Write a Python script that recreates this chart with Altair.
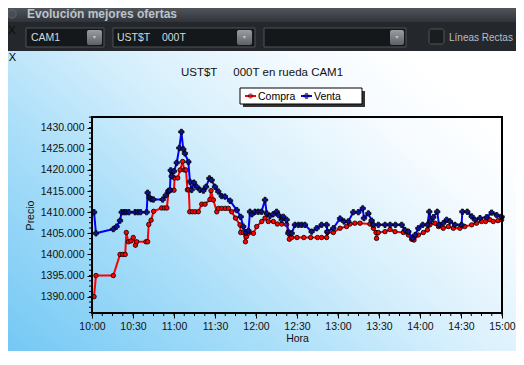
import altair as alt
import pandas as pd

# ---------------- data ----------------
compra_time = [
    "10:01:30", "10:02:54", "10:15:36", "10:20:30", "10:22:30", "10:24:18", "10:25:06",
    "10:26:36", "10:28:30", "10:30:12", "10:31:48", "10:32:42", "10:39:30", "10:40:42",
    "10:41:30", "10:43:12", "10:45:06", "10:51:00", "10:53:00", "10:54:48", "10:56:00",
    "10:57:30", "11:00:00", "11:00:24", "11:02:42", "11:04:30", "11:06:18", "11:07:30",
    "11:08:48", "11:09:48", "11:10:48", "11:11:30", "11:13:30", "11:15:30", "11:17:48",
    "11:20:18", "11:22:42", "11:26:18", "11:27:06", "11:28:48", "11:31:18", "11:32:30",
    "11:35:00", "11:37:30", "11:39:48", "11:42:12", "11:45:00", "11:48:18", "11:48:48",
    "11:50:48", "11:52:18", "11:53:00", "11:54:24", "11:58:06", "12:00:30", "12:04:12",
    "12:06:36", "12:09:00", "12:12:42", "12:15:36", "12:18:48", "12:22:24", "12:23:42",
    "12:24:24", "12:26:06", "12:30:00", "12:35:00", "12:40:00", "12:45:00", "12:48:00",
    "12:51:42", "12:52:12", "12:56:36", "13:01:30", "13:06:18", "13:08:48", "13:12:24",
    "13:16:06", "13:23:24", "13:25:54", "13:27:48", "13:28:12", "13:29:30", "13:34:24",
    "13:38:06", "13:41:42", "13:47:48", "13:51:30", "13:53:54", "13:55:36", "13:58:48",
    "14:02:30", "14:05:24", "14:07:18", "14:11:00", "14:13:30", "14:17:00", "14:20:42",
    "14:24:24", "14:29:12", "14:32:48", "14:37:48", "14:41:24", "14:45:06", "14:48:00",
    "14:51:12", "14:53:36", "14:57:00", "14:59:42",
]
compra_price = [
    1390.0, 1395.0, 1395.0, 1400.0, 1400.0, 1400.0, 1405.2,
    1403.0, 1403.2, 1404.0, 1402.2, 1403.0, 1403.0, 1403.0,
    1407.1, 1408.1, 1410.2, 1411.0, 1411.0, 1411.0, 1415.0,
    1415.2, 1415.2, 1418.1, 1418.1, 1420.0, 1422.0, 1420.0,
    1420.0, 1415.3, 1415.3, 1410.1, 1410.1, 1410.1, 1410.1,
    1411.9, 1411.9, 1413.0, 1415.1, 1412.9, 1410.1, 1410.9,
    1410.9, 1410.9, 1410.9, 1410.1, 1408.6, 1407.0, 1405.2,
    1405.2, 1403.0, 1404.2, 1405.0, 1405.0, 1406.6, 1407.8,
    1408.6, 1407.8, 1407.8, 1407.2, 1407.2, 1407.1, 1405.4,
    1403.6, 1404.0, 1404.0, 1404.0, 1404.0, 1404.0, 1404.0,
    1404.0, 1405.2, 1405.2, 1406.2, 1406.6, 1407.2, 1407.4,
    1407.4, 1407.2, 1406.2, 1405.2, 1403.8, 1405.2, 1405.4,
    1405.9, 1405.4, 1405.2, 1404.6, 1403.6, 1403.4, 1404.6,
    1405.2, 1405.8, 1407.0, 1407.4, 1406.6, 1406.2, 1406.6,
    1406.2, 1406.2, 1406.6, 1407.0, 1407.4, 1407.8, 1407.8,
    1408.2, 1407.8, 1408.0, 1408.2,
]
venta_time = [
    "10:01:30", "10:02:54", "10:15:36", "10:18:00", "10:20:30", "10:21:42", "10:23:30",
    "10:25:00", "10:27:00", "10:31:30", "10:33:30", "10:35:30", "10:40:00", "10:40:42",
    "10:42:00", "10:43:12", "10:44:54", "10:51:42", "10:54:00", "10:55:54", "10:57:00",
    "10:57:36", "10:58:18", "11:00:00", "11:02:00", "11:03:54", "11:05:24", "11:06:48",
    "11:08:00", "11:10:30", "11:11:42", "11:12:54", "11:14:36", "11:16:36", "11:19:00",
    "11:21:30", "11:23:24", "11:25:54", "11:27:30", "11:30:00", "11:32:24", "11:34:54",
    "11:37:18", "11:41:00", "11:45:54", "11:48:48", "11:50:42", "11:52:42", "11:54:30",
    "11:55:36", "11:57:00", "11:59:18", "12:01:36", "12:04:00", "12:06:36", "12:07:48",
    "12:10:12", "12:12:30", "12:15:06", "12:16:30", "12:18:48", "12:20:00", "12:22:24",
    "12:23:42", "12:26:06", "12:28:30", "12:31:00", "12:33:24", "12:35:48", "12:40:42",
    "12:44:24", "12:48:00", "12:51:42", "12:52:12", "12:56:36", "13:01:30", "13:04:24",
    "13:07:30", "13:11:12", "13:14:54", "13:18:06", "13:19:00", "13:22:12", "13:24:36",
    "13:25:54", "13:29:30", "13:34:24", "13:38:06", "13:42:00", "13:46:36", "13:49:00",
    "13:51:30", "13:54:42", "13:56:24", "13:58:48", "14:02:00", "14:05:24", "14:06:48",
    "14:08:00", "14:09:42", "14:12:36", "14:13:54", "14:17:00", "14:19:30", "14:21:54",
    "14:25:36", "14:30:24", "14:31:00", "14:34:36", "14:37:48", "14:40:12", "14:43:54",
    "14:48:48", "14:52:24", "14:56:06", "14:59:42",
]
venta_price = [
    1410.0, 1405.0, 1406.0, 1406.6, 1408.0, 1410.0, 1410.0,
    1410.0, 1410.0, 1410.0, 1410.0, 1410.0, 1410.0, 1414.6,
    1413.5, 1413.1, 1413.0, 1413.0, 1414.0, 1415.0, 1415.2,
    1419.9, 1418.5, 1419.7, 1421.7, 1425.2, 1429.0, 1424.9,
    1423.9, 1421.9, 1417.2, 1415.3, 1417.0, 1416.0, 1415.3,
    1415.1, 1416.0, 1418.0, 1417.6, 1416.0, 1414.9, 1413.8,
    1413.7, 1412.7, 1410.5, 1408.9, 1406.6, 1405.2, 1405.6,
    1410.1, 1409.5, 1410.1, 1410.1, 1410.1, 1412.9, 1409.7,
    1409.1, 1409.5, 1410.1, 1409.3, 1408.2, 1408.9, 1408.2,
    1405.0, 1405.0, 1407.0, 1407.0, 1407.0, 1407.0, 1405.4,
    1406.2, 1407.0, 1407.0, 1405.4, 1406.2, 1408.5, 1407.8,
    1407.8, 1410.0, 1410.0, 1410.9, 1408.6, 1409.7, 1408.0,
    1407.0, 1407.0, 1407.0, 1407.0, 1407.0, 1407.0, 1405.8,
    1405.4, 1403.8, 1404.6, 1406.2, 1407.0, 1407.0, 1410.1,
    1408.0, 1408.8, 1410.1, 1407.0, 1407.4, 1408.2, 1407.8,
    1407.0, 1407.0, 1410.1, 1410.1, 1409.0, 1408.2, 1408.6,
    1408.8, 1409.9, 1409.3, 1408.9,
]
series_names = ["Compra", "Venta"]
series_colors = ["#ff0000", "#0000ff"]
x_tick_labels = ["10:00", "10:30", "11:00", "11:30", "12:00", "12:30",
                 "13:00", "13:30", "14:00", "14:30", "15:00"]
y_tick_values = [1390, 1395, 1400, 1405, 1410, 1415, 1420, 1425, 1430]
y_domain = [1386.14, 1432.53]
x_title = "Hora"
y_title = "Precio"
chart_title = "UST$T\u00a0\u00a0\u00a0\u00a0\u00a0000T en rueda CAM1"
window_title = "Evolución mejores ofertas"
combo_labels = ["CAM1", "UST$T\u00a0\u00a0\u00a0\u00a0000T"]
check_label = "Líneas Rectas"

DAY = "2024-01-01 "
FONT = "Liberation Sans"
W, H = 410, 196


def dt(hhmm):
    h, m = hhmm.split(":")
    return alt.DateTime(year=2024, month=1, date=1, hours=int(h), minutes=int(m))


compra_df = pd.DataFrame({"time": pd.to_datetime([DAY + t for t in compra_time]),
                          "price": compra_price})
venta_df = pd.DataFrame({"time": pd.to_datetime([DAY + t for t in venta_time]),
                         "price": venta_price})

# minor tick positions (axis decoration)
minor_x = pd.DataFrame({"time": pd.date_range(DAY + "10:00", DAY + "15:00", freq="450s")})
minor_y = pd.DataFrame({"price": [1386.25 + 1.25 * k for k in range(38)]})

x_scale = alt.Scale(domain=[dt(x_tick_labels[0]), dt(x_tick_labels[-1])])
y_scale = alt.Scale(domain=y_domain, nice=False, zero=False)
x_axis = alt.Axis(values=[dt(t) for t in x_tick_labels], format="%H:%M", grid=False,
                  domain=False, tickSize=5, tickColor="#000000", labelPadding=3,
                  labelFlush=False, labelOverlap=False,
                  labelFont=FONT, labelFontSize=10.5, labelColor="#111111",
                  titleFont=FONT, titleFontSize=10.5, titleFontWeight="normal",
                  titleColor="#111111", titlePadding=2, zindex=1)
y_axis = alt.Axis(values=y_tick_values, format=".3f", grid=False, domain=False,
                  tickSize=5, tickColor="#000000", labelPadding=3,
                  labelFlush=False, labelOverlap=False,
                  labelFont=FONT, labelFontSize=10.5, labelColor="#111111",
                  titleFont=FONT, titleFontSize=10.5, titleFontWeight="normal",
                  titleColor="#111111", titlePadding=5, zindex=1)
X = alt.X("time:T", scale=x_scale, axis=x_axis, title=x_title)
Y = alt.Y("price:Q", scale=y_scale, axis=y_axis, title=y_title)

one = pd.DataFrame({"k": [0]})


def rect(x, x2, y, y2, **kw):
    return alt.Chart(one).mark_rect(**kw).encode(
        x=alt.value(x), x2=alt.value(x2), y=alt.value(y), y2=alt.value(y2))


def label(x, y, txt, **kw):
    base = dict(font=FONT, fontSize=10.5, align="left", baseline="middle")
    base.update(kw)
    return alt.Chart(one).mark_text(text=txt, **base).encode(x=alt.value(x), y=alt.value(y))


def sym(x, y, **kw):
    return alt.Chart(one).mark_point(**kw).encode(x=alt.value(x), y=alt.value(y))


def grad(stops, x1, y1, x2, y2):
    return alt.LinearGradient(gradient="linear", x1=x1, y1=y1, x2=x2, y2=y2,
                              stops=[alt.GradientStop(color=c, offset=o) for o, c in stops])


layers = []
# light panel behind the chart
layers.append(rect(-84, 424, -66, 234, fill=grad(
    [(0, "#74c8f5"), (0.35, "#a9def9"), (0.6, "#d6effc"), (0.85, "#f6fbff"), (1, "#ffffff")],
    0, 1, 1, 0.3)))
# window title bar
layers.append(rect(-84, 424, -109, -95, fill=grad([(0, "#50555b"), (1, "#30343a")], 0, 0, 0, 1)))
layers.append(sym(-80, -103, shape="circle", size=70, filled=True, fill="#4b5056",
                  stroke="#6c7177", strokeWidth=1))
layers.append(label(-65, -103, window_title, fontSize=12, fontWeight="bold", color="#bcc4cc"))
# toolbar
layers.append(label(-80, -86, "X", fontSize=11, align="center", color="#0a0a0a"))
for (a, b), (ba, bb) in zip([(-66, 12), (21, 163), (172, 314)],
                            [(-5, 10), (145, 160), (298, 312)]):
    layers.append(rect(a, b, -89, -70, fill="#15181b", stroke="#4d5258", strokeWidth=1))
    layers.append(rect(ba, bb, -87, -72, cornerRadius=2,
                       fill=grad([(0, "#9a9ea3"), (1, "#5e6267")], 0, 0, 0, 1)))
    layers.append(sym((ba + bb) / 2, -79.5, shape="triangle-down", size=12, filled=True,
                      fill="#d8dadc", strokeWidth=0))
layers.append(label(-61, -79, combo_labels[0], color="#d4d8dc"))
layers.append(label(25, -79, combo_labels[1], color="#d4d8dc"))
layers.append(rect(337, 352, -88, -73, cornerRadius=2, fill="#1a1d20", stroke="#50555b",
                   strokeWidth=1))
layers.append(label(357, -79, check_label, fontSize=10, color="#b8bec4"))
# panel close glyph and chart title
layers.append(label(-79.5, -59, "X", fontSize=11, align="center", color="#000000"))
layers.append(label(170, -44, chart_title, fontSize=11.5, align="center", color="#111111"))
# legend box
layers.append(rect(151, 273, -26, -10, fill="#333333"))
layers.append(rect(148, 270, -29, -13, fill="#ffffff", stroke="#000000", strokeWidth=1))
for i, (name, col) in enumerate(zip(series_names, series_colors)):
    x0 = 153 + 56 * i
    layers.append(rect(x0, x0 + 11, -22, -20, fill=col))
    if i == 0:
        layers.append(sym(x0 + 5.5, -21, shape="circle", size=18, filled=True, fill=col,
                          stroke="#000000", strokeWidth=0.8))
    else:
        layers.append(sym(x0 + 5.5, -21, shape="cross", size=28, filled=True, fill="#1010a0",
                          stroke="#000000", strokeWidth=0.8))
    layers.append(label(x0 + 13, -20.5, name, color="#000000"))

# minor ticks
layers.append(alt.Chart(minor_x).mark_rule(color="#000000", strokeWidth=1).encode(
    x=X, y=alt.value(H), y2=alt.value(H + 3)))
layers.append(alt.Chart(minor_y).mark_rule(color="#000000", strokeWidth=1).encode(
    y=Y, x=alt.value(-3), x2=alt.value(0)))

# data series
layers.append(alt.Chart(compra_df).mark_line(color=series_colors[0], strokeWidth=2).encode(x=X, y=Y))
layers.append(alt.Chart(compra_df).mark_point(shape="circle", filled=True, size=20,
                                              fill=series_colors[0], stroke="#000000",
                                              strokeWidth=0.8, opacity=1).encode(x=X, y=Y))
layers.append(alt.Chart(venta_df).mark_line(color=series_colors[1], strokeWidth=2).encode(x=X, y=Y))
layers.append(alt.Chart(venta_df).mark_point(shape="cross", filled=True, size=28,
                                             fill="#1010a0", stroke="#000000",
                                             strokeWidth=0.8, opacity=1).encode(x=X, y=Y))
# plot frame
layers.append(rect(0, W, 0, H, filled=False, stroke="#000000", strokeWidth=2))

chart = alt.layer(*layers).properties(
    width=W, height=H,
    autosize=alt.AutoSizeParams(type="none"),
    padding={"left": 84, "top": 109, "right": 14, "bottom": 38},
).configure(background="#24282d").configure_view(strokeWidth=0)

chart.save("out.html", embed_options={"renderer": "svg", "actions": False})
